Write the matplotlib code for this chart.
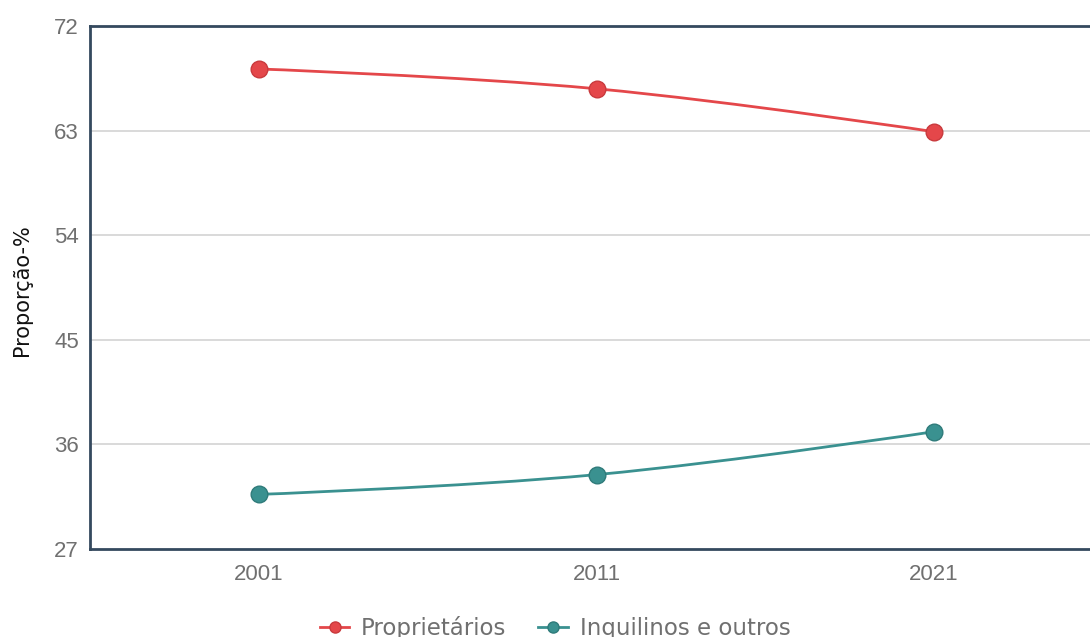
import numpy as np
import matplotlib
matplotlib.use("Agg")
import matplotlib.pyplot as plt
from matplotlib.path import Path
from matplotlib.patches import PathPatch
from matplotlib.lines import Line2D

years = ["2001", "2011", "2021"]
proprietarios = [68.3, 66.6, 62.9]
inquilinos = [31.7, 33.4, 37.1]
y_ticks = [27, 36, 45, 54, 63, 72]

RED = "#e4474a"
RED_EDGE = "#c93a3d"
TEAL = "#3a9190"
TEAL_EDGE = "#2f7b7a"


def spline_path(xs, ys, smoothing=1.5):
    """Smooth curve through the points, built from cubic Bezier segments."""
    denom = smoothing + 1
    n = len(xs)
    left = [None] * n
    right = [None] * n
    for i in range(n):
        x, y = xs[i], ys[i]
        if 0 < i < n - 1:
            lx = (smoothing * x + xs[i - 1]) / denom
            ly = (smoothing * y + ys[i - 1]) / denom
            rx = (smoothing * x + xs[i + 1]) / denom
            ry = (smoothing * y + ys[i + 1]) / denom
            if rx != lx:
                corr = (ry - ly) * (rx - x) / (rx - lx) + y - ry
                ly += corr
                ry += corr
            left[i] = (lx, ly)
            right[i] = (rx, ry)
        else:
            left[i] = (x, y)
            right[i] = (x, y)
    verts = [(xs[0], ys[0])]
    codes = [Path.MOVETO]
    for i in range(1, n):
        verts += [right[i - 1], left[i], (xs[i], ys[i])]
        codes += [Path.CURVE4] * 3
    return Path(verts, codes)


fig = plt.figure(figsize=(10.9, 6.37), dpi=100)
W, H = 1090, 637
ax = fig.add_axes([90 / W, 1 - 549 / H, (1103 - 90) / W, (549 - 26) / H])

xs = np.arange(len(years))
for vals, col, edge in [(proprietarios, RED, RED_EDGE), (inquilinos, TEAL, TEAL_EDGE)]:
    ax.add_patch(PathPatch(spline_path(xs, vals), facecolor="none", edgecolor=col,
                           lw=2.0, zorder=3))
    ax.plot(xs, vals, linestyle="none", marker="o", markersize=12,
            markerfacecolor=col, markeredgecolor=edge, markeredgewidth=1.0, zorder=4)

ax.set_xlim(-0.5, len(years) - 0.5)
ax.set_ylim(27, 72)
ax.set_xticks(xs)
ax.set_xticklabels(years)
ax.set_yticks(y_ticks)

for t in y_ticks[1:-1]:
    ax.axhline(t, color="#d3d3d3", lw=1.2, zorder=1)

for side in ["left", "bottom", "top"]:
    ax.spines[side].set_color("#34495e")
    ax.spines[side].set_linewidth(2.0)
ax.spines["right"].set_visible(False)

ax.tick_params(axis="both", length=0, labelsize=16, labelcolor="#707070",
               labelfontfamily="Liberation Sans")
ax.tick_params(axis="x", pad=11)
ax.tick_params(axis="y", pad=8)

fig.text(22 / W, 1 - 290 / H, "Proporção-%", rotation=90, ha="center", va="center",
         fontsize=15, color="#111111", family="DejaVu Sans")

handles = [
    Line2D([], [], color=RED, lw=2, marker="o", markersize=8,
           markerfacecolor=RED, markeredgecolor=RED_EDGE),
    Line2D([], [], color=TEAL, lw=2, marker="o", markersize=8,
           markerfacecolor=TEAL, markeredgecolor=TEAL_EDGE),
]
leg = fig.legend(handles, ["Proprietários", "Inquilinos e outros"], loc="center",
                 bbox_to_anchor=(555 / W, 1 - 628 / H), ncol=2, frameon=False,
                 handlelength=1.3, handletextpad=0.5, columnspacing=1.4,
                 prop={"family": "DejaVu Sans", "size": 16.5})
for txt in leg.get_texts():
    txt.set_color("#707070")

fig.savefig("out.png", dpi=100)
